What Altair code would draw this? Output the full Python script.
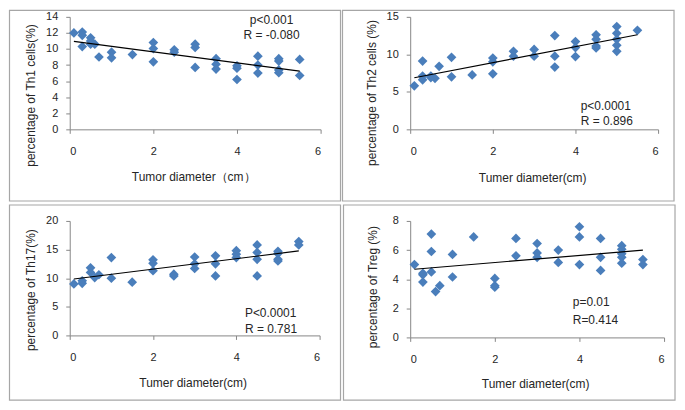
import altair as alt
import pandas as pd

# ---------------- data ----------------
th1_x = [0.1, 0.3, 0.3, 0.3, 0.5, 0.5, 0.5, 0.6, 0.7, 1, 1, 1.5, 2, 2, 2, 2.5, 2.5,
         3, 3, 3, 3.5, 3.5, 3.5, 4, 4, 4, 4.5, 4.5, 4.5, 5, 5, 5, 5, 5.5, 5.5]
th1_y = [12.0, 12.1, 11.7, 10.3, 11.4, 11.0, 10.6, 10.6, 9.0, 9.6, 8.9, 9.3, 10.8, 10.05, 8.4, 9.9, 9.6,
         10.6, 10.2, 7.7, 8.8, 8.1, 7.5, 7.9, 7.6, 6.2, 9.1, 8.0, 7.0, 8.8, 8.5, 7.4, 7.05, 8.7, 6.7]

th2_x = [0.1, 0.3, 0.3, 0.3, 0.5, 0.5, 0.6, 0.7, 1, 1, 1.5, 2, 2, 2, 2.5, 2.5, 3, 3,
         3.5, 3.5, 3.5, 4, 4, 4, 4.5, 4.5, 4.5, 4.5, 5, 5, 5, 5, 5, 5.5]
th2_y = [5.8, 9.1, 7.1, 6.6, 7.1, 6.9, 6.8, 8.4, 9.6, 7.0, 7.25, 9.5, 9.0, 7.4, 10.4, 9.75, 10.65, 9.75,
         12.5, 9.75, 8.3, 11.7, 10.9, 9.7, 12.6, 12.0, 11.1, 10.85, 13.7, 12.8, 12.0, 11.2, 10.4, 13.2]

th17_x = [0.1, 0.3, 0.3, 0.5, 0.5, 0.6, 0.7, 1, 1, 1.5, 2, 2, 2, 2.5, 2.5, 3, 3, 3,
          3.5, 3.5, 3.5, 4, 4, 4, 4.5, 4.5, 4.5, 4.5, 5, 5, 5, 5, 5.5, 5.5]
th17_y = [9.0, 9.55, 9.1, 11.8, 11.0, 10.1, 10.6, 13.6, 10.0, 9.3, 13.2, 12.6, 11.3, 10.7, 10.4, 13.7, 12.5, 11.7,
          13.9, 12.5, 10.4, 14.8, 14.2, 13.6, 15.8, 14.5, 13.3, 10.4, 14.7, 14.3, 13.3, 13.0, 16.4, 15.8]

treg_x = [0.1, 0.3, 0.3, 0.3, 0.5, 0.5, 0.5, 0.6, 0.7, 1, 1, 1.5, 2, 2, 2, 2.5, 2.5, 3, 3, 3,
          3.5, 3.5, 4, 4, 4, 4.5, 4.5, 4.5, 5, 5, 5, 5, 5, 5.5, 5.5]
treg_y = [5.0, 4.4, 4.3, 3.8, 7.1, 5.9, 4.5, 3.15, 3.55, 5.7, 4.15, 6.9, 4.05, 3.55, 3.45, 6.8, 5.6, 6.45, 5.8, 5.5,
          6.0, 5.15, 7.6, 6.9, 5.0, 6.8, 5.5, 4.6, 6.3, 6.05, 5.75, 5.5, 5.1, 5.35, 5.0]

x_ticks = [0, 2, 4, 6]

FONT = "Liberation Sans"
AXIS_GRAY = "#868686"
TEXT = "#262626"
BLUE = "#4A7EBB"
BORDER = "#A6A6A6"


def panel(xs, ys, ytitle, xtitle, ymax, ystep, w, h,
          ytitle_xy, xtitle_y, notes, note_align, note_x, note_ys, border):
    df = pd.DataFrame({"x": xs, "y": ys})
    common = dict(grid=False, domainColor=AXIS_GRAY, tickColor=AXIS_GRAY, tickSize=4,
                  labelFont=FONT, labelFontSize=11, labelColor=TEXT,
                  titleFont=FONT, titleFontSize=12, titleFontWeight="normal",
                  titleColor=TEXT, titleBaseline="middle", titleAlign="center")
    xenc = alt.X("x:Q", scale=alt.Scale(domain=[0, 6], nice=False, zero=False),
                 axis=alt.Axis(values=x_ticks, title=xtitle, labelPadding=12,
                               titleY=xtitle_y, titleX=w / 2 - 2, **common))
    yenc = alt.Y("y:Q", scale=alt.Scale(domain=[0, ymax], nice=False),
                 axis=alt.Axis(values=list(range(0, ymax + 1, ystep)), title=ytitle,
                               labelPadding=8, titleAngle=270,
                               titleX=ytitle_xy[0], titleY=ytitle_xy[1], **common))
    base = alt.Chart(df)
    pts = base.mark_point(shape="diamond", filled=True, size=95, color=BLUE, opacity=1).encode(x=xenc, y=yenc)
    line = base.transform_regression("x", "y").mark_line(color="black", strokeWidth=1.2).encode(x=xenc, y=yenc)
    layers = []
    bx1, bx2, by1, by2 = border
    frame = alt.Chart(alt.Data(values=[{}])).mark_rect(
        fill="white", fillOpacity=0, stroke=BORDER, strokeWidth=1.2
    ).encode(x=alt.value(bx1), x2=alt.value(bx2), y=alt.value(by1), y2=alt.value(by2))
    layers.append(frame)
    layers += [pts, line]
    for t, yy in zip(notes, note_ys):
        layers.append(
            alt.Chart(alt.Data(values=[{}])).mark_text(
                text=t, font=FONT, fontSize=12, color=TEXT, align=note_align, baseline="middle"
            ).encode(x=alt.value(note_x), y=alt.value(yy))
        )
    return alt.layer(*layers).properties(width=w, height=h)


p1 = panel(th1_x, th1_y, "percentage of Th1 cells(%)", "Tumor diameter（cm）", 14, 2, 252, 113,
           (-39.7, 78.5), 47, ["p<0.001", "R = -0.080"], "center", 202.7, [3.3, 18.3],
           (-60.5, 272, -6.5, 185))
p2 = panel(th2_x, th2_y, "percentage of Th2 cells (%)", "Tumer diameter(cm)", 15, 5, 249, 113,
           (-39.3, 76), 48.5, ["p<0.0001", "R = 0.896"], "left", 171.3, [89.3, 105],
           (-68, 265, -6.5, 185))
p3 = panel(th17_x, th17_y, "percentage of Th17(%)", "Tumer diameter(cm)", 20, 5, 251, 115,
           (-39.7, 69), 47.5, ["P<0.0001", "R = 0.781"], "left", 176, [92.7, 108.3],
           (-60.5, 272, -16, 180))
p4 = panel(treg_x, treg_y, "percentage of Treg (%)", "Tumer diameter(cm)", 8, 2, 255, 117,
           (-38.3, 66), 46.3, ["p=0.01", "R=0.414"], "left", 163.3, [81.7, 99.3],
           (-67, 266, -16, 180))

chart = alt.concat(
    p1, p2, p3, p4, columns=2
).properties(
    bounds="flush", align="none", spacing={"row": 92, "column": 90}, padding=0,
    background="white"
).configure_view(stroke="transparent")

chart.save("out.html", embed_options={"renderer": "svg", "actions": False})
